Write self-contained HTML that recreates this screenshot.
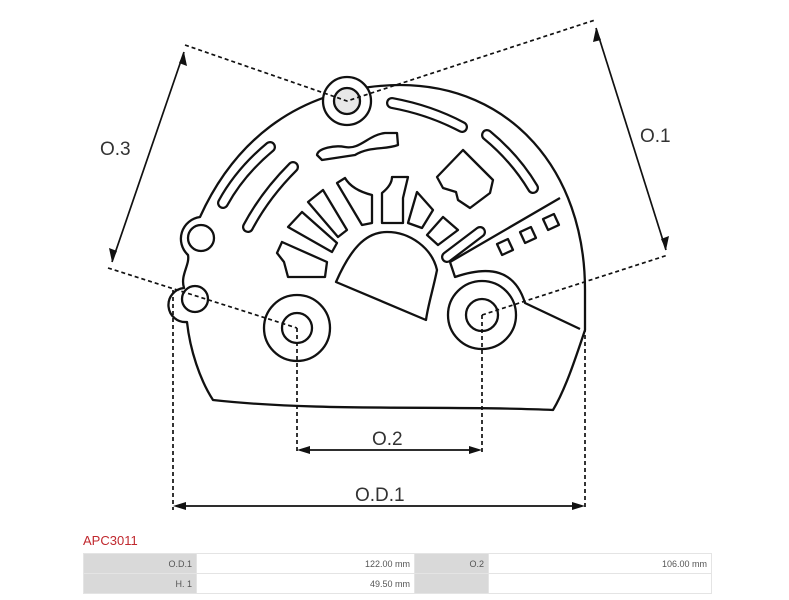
<!DOCTYPE html>
<html><head><style>
body{margin:0;background:#fff;width:789px;height:600px;overflow:hidden;font-family:"Liberation Sans",sans-serif}
svg{position:absolute;left:0;top:0}
.t{position:absolute;left:83px;top:533px;color:#c0282e;font-size:13px}
table{position:absolute;left:83px;top:553px;border-collapse:separate;border-spacing:1px;background:#e4e4e4;font-size:9px;color:#555}
td{height:19px;padding:0 4px;text-align:right}
.g{background:#d9d9d9}.w{background:#fff}
</style></head><body>
<svg width="789" height="600" viewBox="0 0 789 600" fill="none" stroke="#111" stroke-width="2.3" stroke-linejoin="round">
<path d="M200,217 C235,140 300,86 400,85 C510,85 585,170 585,290 L585,330 C575,360 565,390 553,410 C450,405 320,412 213,400 C200,380 190,350 187,322 A17,17 0 0 1 184,288 C180,275 190,265 188,255 A22,22 0 0 1 200,217 Z"/>
<circle cx="201" cy="238" r="13"/>
<circle cx="195" cy="299" r="13"/>
<circle cx="347" cy="101" r="24" fill="#fff"/>
<circle cx="347" cy="101" r="13" fill="#e8e8e8"/>
<circle cx="297" cy="328" r="33"/><circle cx="297" cy="328" r="15"/>
<circle cx="482" cy="315" r="34"/><circle cx="482" cy="315" r="16"/>
<path d="M336,282 C350,250 365,232 387,232 C410,232 432,248 437,270 C433,290 428,305 426,320 Z"/>
<path d="M282,242 L327,262 L325,277 L288,277 L284,262 L277,253 Z"/>
<path d="M288,227 L302,212 L337,243 L332,252 Z"/>
<path d="M308,202 L323,190 L347,230 L338,237 Z"/>
<path d="M337,183 L345,178 Q352,190 372,195 L372,223 L362,225 Z"/>
<path d="M382,223 L382,193 Q392,185 392,177 L408,177 L403,198 L403,223 Z"/>
<path d="M408,223 L417,192 L433,210 L422,228 Z"/>
<path d="M427,235 L443,217 L458,230 L438,245 Z"/>
<path d="M437,177 L463,150 L493,180 L490,193 L470,208 L458,200 L456,192 L443,188 Z"/>
<path d="M317,155 C318,148 335,145 345,147 C360,150 368,135 385,133 L397,133 L398,145 C385,150 370,146 355,155 L322,160 Z"/>
<g stroke-linecap="round">
<path d="M392,103 Q430,110 462,127" stroke-width="12"/>
<path d="M487,135 Q515,158 533,188" stroke-width="12"/>
<path d="M270,147 Q240,172 223,203" stroke-width="12"/>
<path d="M293,167 Q265,195 248,227" stroke-width="12"/>
<path d="M447,257 L480,232" stroke-width="12"/>
<g stroke="#fff" stroke-width="7.5">
<path d="M392,103 Q430,110 462,127"/>
<path d="M487,135 Q515,158 533,188"/>
<path d="M270,147 Q240,172 223,203"/>
<path d="M293,167 Q265,195 248,227"/>
<path d="M447,257 L480,232"/>
</g></g>
<path d="M450,262 L560,198 M450,262 L455,277 C490,265 515,270 525,303 L580,329"/>
<g transform="rotate(-25 505 247)"><rect x="499" y="241" width="12" height="12"/></g>
<g transform="rotate(-25 528 235)"><rect x="522" y="229" width="12" height="12"/></g>
<g transform="rotate(-25 551 222)"><rect x="545" y="216" width="12" height="12"/></g>
<g stroke-dasharray="4,3" stroke-width="1.7">
<path d="M185,45 L347,101 L595,20"/>
<path d="M108,268 L297,328"/>
<path d="M482,315 L668,255"/>
<path d="M297,328 V452 M482,315 V452"/>
<path d="M173,290 V510 M585,300 V510"/>
</g>
<g stroke-width="1.7">
<path d="M184,52 L112,262"/>
<path d="M596,28 L666,250"/>
<path d="M300,450 H479"/>
<path d="M176,506 H582"/>
</g>
<g fill="#111" stroke="none">
<path d="M184,52 L187,66 L179,63 Z"/><path d="M112,262 L109,248 L117,251 Z"/>
<path d="M596,28 L593,42 L601,40 Z"/><path d="M666,250 L669,236 L661,239 Z"/>
<path d="M297,450 L310,446 L310,454 Z"/><path d="M482,450 L469,446 L469,454 Z"/>
<path d="M173,506 L186,502 L186,510 Z"/><path d="M585,506 L572,502 L572,510 Z"/>
</g>
<g fill="#333" stroke="none" font-family="Liberation Sans, sans-serif" font-size="19">
<text x="100" y="155">O.3</text>
<text x="640" y="142">O.1</text>
<text x="372" y="445">O.2</text>
<text x="355" y="501">O.D.1</text>
</g>
</svg>
<div class="t">APC3011</div>
<table>
<tr><td class="g" style="width:104px">O.D.1</td><td class="w" style="width:209px">122.00 mm</td><td class="g" style="width:65px">O.2</td><td class="w" style="width:214px">106.00 mm</td></tr>
<tr><td class="g">H. 1</td><td class="w">49.50 mm</td><td class="g"></td><td class="w"></td></tr>
</table>
</body></html>
